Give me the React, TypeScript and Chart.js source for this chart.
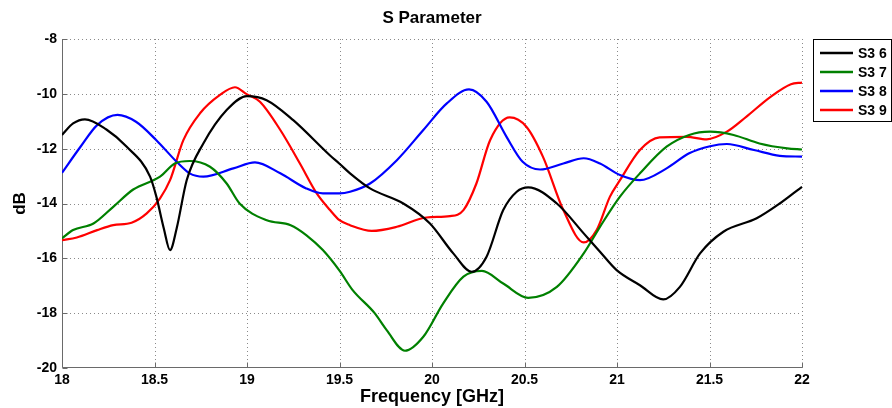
import React, { useEffect, useRef } from "react";
import { Chart, registerables } from "chart.js";

Chart.register(...registerables);

const FONT = '"Liberation Sans", Arial, Helvetica, sans-serif';

// Frequency samples (GHz) and magnitudes (dB) for each transmission coefficient
const s36Freq = [18.0, 18.06, 18.124, 18.24, 18.35, 18.476, 18.51, 18.55, 18.584, 18.62, 18.674, 18.764, 18.89, 19.0, 19.106, 19.25, 19.449, 19.5, 19.557, 19.665, 19.845, 19.989, 20.115, 20.214, 20.295, 20.385, 20.458, 20.52, 20.675, 20.82, 20.908, 20.998, 21.124, 21.25, 21.34, 21.449, 21.575, 21.755, 21.88, 22.0];
const s36Db = [-11.5, -11.08, -10.93, -11.3, -11.93, -13.02, -13.75, -14.9, -15.7, -14.9, -13.15, -11.81, -10.59, -10.08, -10.23, -10.96, -12.25, -12.55, -12.9, -13.45, -14.0, -14.73, -15.82, -16.49, -15.94, -14.24, -13.57, -13.41, -14.0, -15.09, -15.76, -16.43, -16.98, -17.5, -17.04, -15.82, -15.03, -14.54, -14.0, -13.39];

const s37Freq = [18.0, 18.06, 18.17, 18.277, 18.385, 18.53, 18.61, 18.69, 18.8, 18.89, 18.96, 19.107, 19.236, 19.32, 19.41, 19.5, 19.57, 19.69, 19.755, 19.854, 19.953, 20.06, 20.17, 20.27, 20.385, 20.52, 20.675, 20.82, 20.908, 21.016, 21.124, 21.268, 21.39, 21.503, 21.63, 21.77, 21.92, 22.0];
const s37Db = [-15.27, -14.97, -14.73, -14.12, -13.49, -13.02, -12.54, -12.45, -12.66, -13.27, -14.0, -14.61, -14.79, -15.15, -15.7, -16.45, -17.15, -18.0, -18.62, -19.37, -18.86, -17.65, -16.67, -16.46, -16.92, -17.44, -17.04, -15.82, -14.85, -13.75, -12.9, -11.93, -11.5, -11.38, -11.5, -11.81, -11.99, -12.03];

const s38Freq = [18.0, 18.1, 18.19, 18.3, 18.4, 18.51, 18.62, 18.69, 18.764, 18.926, 19.043, 19.18, 19.32, 19.41, 19.5, 19.557, 19.665, 19.81, 19.953, 20.08, 20.2, 20.295, 20.403, 20.49, 20.584, 20.71, 20.82, 20.908, 21.016, 21.124, 21.268, 21.39, 21.503, 21.594, 21.74, 21.88, 22.0];
const s38Db = [-12.88, -11.93, -11.14, -10.77, -11.02, -11.69, -12.48, -12.9, -13.02, -12.72, -12.5, -12.9, -13.45, -13.63, -13.63, -13.57, -13.27, -12.42, -11.32, -10.35, -9.84, -10.29, -11.57, -12.48, -12.76, -12.54, -12.35, -12.54, -12.96, -13.15, -12.72, -12.17, -11.91, -11.83, -12.05, -12.26, -12.29];

const s39Freq = [18.0, 18.08, 18.19, 18.277, 18.376, 18.458, 18.53, 18.584, 18.656, 18.746, 18.854, 18.935, 18.998, 19.07, 19.18, 19.286, 19.377, 19.449, 19.5, 19.557, 19.674, 19.81, 19.97, 20.097, 20.17, 20.24, 20.314, 20.42, 20.51, 20.6, 20.71, 20.82, 20.89, 20.962, 21.016, 21.124, 21.23, 21.376, 21.485, 21.594, 21.7, 21.83, 21.94, 22.0];
const s39Db = [-15.34, -15.24, -14.97, -14.79, -14.7, -14.36, -13.81, -13.15, -11.69, -10.71, -10.04, -9.76, -10.01, -10.29, -11.32, -12.54, -13.63, -14.24, -14.61, -14.79, -15.0, -14.85, -14.51, -14.46, -14.24, -13.27, -11.69, -10.86, -11.2, -12.3, -14.24, -15.42, -14.97, -13.75, -13.15, -12.05, -11.59, -11.57, -11.66, -11.38, -10.83, -10.11, -9.65, -9.59];

const seriesLabels = ["S3 6", "S3 7", "S3 8", "S3 9"];
const seriesColors = ["#000000", "#008000", "#0000ff", "#ff0000"];
const seriesFreqs = [s36Freq, s37Freq, s38Freq, s39Freq];
const seriesDbs = [s36Db, s37Db, s38Db, s39Db];

const xTicks = [18, 18.5, 19, 19.5, 20, 20.5, 21, 21.5, 22];
const yTicks = [-20, -18, -16, -14, -12, -10, -8];

const chartTitle = "S Parameter";
const xTitle = "Frequency [GHz]";
const yTitle = "dB";

// Dotted grid, solid left/bottom axes and inward tick marks
const gridPlugin = {
  id: "dottedGrid",
  beforeDatasetsDraw(chart: any) {
    const { ctx, chartArea, scales } = chart;
    const { left, right, top, bottom } = chartArea;
    const xs = scales.x;
    const ys = scales.y;
    ctx.save();
    ctx.lineWidth = 1;
    ctx.strokeStyle = "#8a8a8a";
    ctx.setLineDash([1, 3]);
    for (const v of xTicks) {
      const px = Math.round(xs.getPixelForValue(v)) + 0.5;
      if (px <= left + 1) continue;
      ctx.beginPath();
      ctx.moveTo(px, top);
      ctx.lineTo(px, bottom);
      ctx.stroke();
    }
    for (const v of yTicks) {
      const py = Math.round(ys.getPixelForValue(v)) + 0.5;
      if (py >= bottom - 1) continue;
      ctx.beginPath();
      ctx.moveTo(left, py);
      ctx.lineTo(right, py);
      ctx.stroke();
    }
    ctx.setLineDash([]);
    ctx.strokeStyle = "#6a6a6a";
    const ax = Math.round(left) + 0.5;
    const ay = Math.round(bottom) - 0.5;
    ctx.beginPath();
    ctx.moveTo(ax, top);
    ctx.lineTo(ax, ay);
    ctx.lineTo(right, ay);
    ctx.stroke();
    for (const v of xTicks) {
      const px = Math.round(xs.getPixelForValue(v)) + 0.5;
      ctx.beginPath();
      ctx.moveTo(px, ay);
      ctx.lineTo(px, ay - 5);
      ctx.stroke();
    }
    for (const v of yTicks) {
      const py = Math.round(ys.getPixelForValue(v)) + 0.5;
      ctx.beginPath();
      ctx.moveTo(ax, py);
      ctx.lineTo(ax + 5, py);
      ctx.stroke();
    }
    ctx.restore();
  },
};

// Title, axis titles and boxed legend
const annotationPlugin = {
  id: "annotations",
  afterDraw(chart: any) {
    const { ctx, chartArea } = chart;
    const { left, right, top, bottom } = chartArea;
    const cx = (left + right) / 2;
    ctx.save();
    ctx.fillStyle = "#000";
    ctx.textAlign = "center";
    ctx.textBaseline = "middle";
    ctx.font = `bold 17px ${FONT}`;
    ctx.fillText(chartTitle, cx, 18);
    ctx.font = `bold 18px ${FONT}`;
    ctx.fillText(xTitle, cx, 397);
    ctx.save();
    ctx.translate(20, (top + bottom) / 2);
    ctx.rotate(-Math.PI / 2);
    ctx.font = `bold 17px ${FONT}`;
    ctx.fillText(yTitle, 0, 0);
    ctx.restore();

    // legend
    const bx = 813.5;
    const by = 39.5;
    ctx.fillStyle = "#fff";
    ctx.fillRect(bx, by, 78, 82);
    ctx.strokeStyle = "#000";
    ctx.lineWidth = 1;
    ctx.strokeRect(bx, by, 78, 82);
    ctx.textAlign = "left";
    ctx.font = `bold 14px ${FONT}`;
    chart.data.datasets.forEach((ds: any, i: number) => {
      const ry = 53 + i * 19;
      ctx.strokeStyle = ds.borderColor;
      ctx.lineWidth = 2.5;
      ctx.beginPath();
      ctx.moveTo(820, ry);
      ctx.lineTo(853, ry);
      ctx.stroke();
      ctx.fillStyle = "#000";
      ctx.fillText(ds.label, 858, ry + 1);
    });
    ctx.restore();
  },
};

export default function App() {
  const canvasRef = useRef<HTMLCanvasElement | null>(null);

  useEffect(() => {
    const canvas = canvasRef.current;
    if (!canvas) return;
    const chart = new Chart(canvas, {
      type: "line",
      data: {
        datasets: seriesLabels.map((label, i) => ({
          label,
          data: seriesFreqs[i].map((f, j) => ({ x: f, y: seriesDbs[i][j] })),
          borderColor: seriesColors[i],
          backgroundColor: seriesColors[i],
          borderWidth: 2.2,
          pointRadius: 0,
          fill: false,
          cubicInterpolationMode: "monotone" as const,
        })),
      },
      options: {
        animation: false,
        responsive: false,
        maintainAspectRatio: false,
        layout: { padding: { left: 0, top: 39, right: 90, bottom: 0 } },
        plugins: {
          legend: { display: false },
          title: { display: false },
          tooltip: { enabled: false },
        },
        scales: {
          x: {
            type: "linear",
            min: 18,
            max: 22,
            grid: { display: false, drawTicks: false },
            border: { display: false },
            ticks: {
              stepSize: 0.5,
              autoSkip: false,
              maxRotation: 0,
              padding: 4,
              color: "#000",
              font: { family: FONT, size: 14, weight: "bold" },
              callback: (value: any) => String(Number(value)),
            },
            afterFit(scale: any) {
              scale.height = 40;
            },
          },
          y: {
            type: "linear",
            min: -20,
            max: -8,
            grid: { display: false, drawTicks: false },
            border: { display: false },
            ticks: {
              stepSize: 2,
              padding: 5,
              color: "#000",
              font: { family: FONT, size: 14, weight: "bold" },
              callback: (value: any) => String(Number(value)),
            },
            afterFit(scale: any) {
              scale.width = 62;
            },
          },
        },
      },
      plugins: [gridPlugin, annotationPlugin],
    });
    return () => chart.destroy();
  }, []);

  return (
    <div style={{ position: "absolute", left: 0, top: 0, width: 892, height: 408, background: "#fff" }}>
      <canvas ref={canvasRef} width={892} height={408} />
    </div>
  );
}
